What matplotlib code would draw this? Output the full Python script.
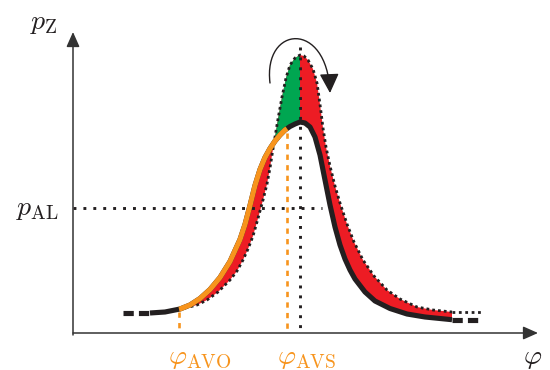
import matplotlib
matplotlib.use("Agg")
import matplotlib.pyplot as plt
from matplotlib.path import Path
from matplotlib.patches import FancyArrowPatch, Polygon
import numpy as np

plt.rcParams["mathtext.fontset"] = "cm"

# ---- data (schematic; y grows downward) ----
# measured pressure curve (black, orange between phi_AVO and phi_AVS)
base_x = [150, 165, 180, 190, 200, 210, 220, 230, 240, 245, 250, 255, 260, 265,
          270, 275, 280, 285, 290, 295, 300, 305, 310, 315, 320, 325, 330, 335,
          340, 345, 350, 355, 365, 375, 390, 407, 425, 452]
base_y = [313, 312, 309, 305, 298.5, 289.5, 277.5, 261.5, 239.5, 224.5, 205.5, 185.5,
          169.5, 157.5, 148.5, 141, 135, 130, 126.5, 124, 122, 123, 127, 137, 155,
          180, 205, 227, 245, 259, 270, 279, 292, 301, 308.5, 314, 317, 319.7]
# dotted (reference) curve
dot_x = [185, 197, 207, 218, 230, 237, 243, 248, 253, 257, 260, 263, 267, 270,
         272, 274, 276, 278, 282, 286, 290, 295, 300, 304, 308, 313, 317, 319,
         321, 323, 326, 330, 335, 340, 347, 354, 363, 374, 387, 400, 417, 433, 452]
dot_y = [308, 305, 300, 292, 280, 271, 260, 249, 236, 222, 211, 200, 184, 168,
         155, 143, 131, 119, 97, 78, 65, 58, 55, 56, 60, 69, 83, 97,
         112, 128, 147, 166, 186, 203, 224, 242, 260, 276, 290, 299, 307, 310, 312]
# tails of the curves
left_tail_x = [123, 150]
left_tail_y = [313, 313]
right_tail_x = [452, 481]
right_tail_y = [320, 320]
dot_tail_x = [452, 482]
dot_tail_y = [312, 312]

phi_avo = 179
phi_avs = 287
phi_peak = 300
p_al = 208

# ---- colours ----
BLACK = "#231f20"
ORANGE = "#f7941d"
RED = "#ed1c24"
GREEN = "#00a651"
AXIS = "#333333"

fig = plt.figure(figsize=(5.5, 3.7), dpi=100)
ax = fig.add_axes([0, 0, 1, 1])
ax.set_xlim(0, 550)
ax.set_ylim(370, 0)
ax.axis("off")

bx = np.array(base_x, float)
by = np.array(base_y, float)
dx = np.array(dot_x, float)
dy = np.array(dot_y, float)

# red area: between dotted curve and measured curve
m = (bx >= dx[0]) & (bx <= dx[-1])
red_pts = np.vstack([np.column_stack([dx, dy]),
                     np.column_stack([bx[m][::-1], by[m][::-1]])])
ax.add_patch(Polygon(red_pts, closed=True, facecolor=RED, edgecolor="none", zorder=1))

# green area: left of the peak, above measured curve
mg = (dx >= 274) & (dx <= phi_peak)
mb = (bx >= 274) & (bx <= phi_peak)
green_pts = np.vstack([np.column_stack([dx[mg], dy[mg]]),
                       np.column_stack([bx[mb][::-1], by[mb][::-1]])])
ax.add_patch(Polygon(green_pts, closed=True, facecolor=GREEN, edgecolor="none", zorder=2))

# guide lines
ax.plot([phi_peak, phi_peak], [47, 333], color=BLACK, lw=2.1,
        linestyle=(0, (1, 2.4)), dash_capstyle="butt", zorder=3)
ax.plot([73, 322], [p_al, p_al], color=BLACK, lw=2.1,
        linestyle=(0, (1, 2.4)), dash_capstyle="butt", zorder=3)
y_avo = np.interp(phi_avo, bx, by)
y_avs = np.interp(phi_avs, bx, by)
ax.plot([phi_avo, phi_avo], [y_avo + 3, 333], color=ORANGE, lw=1.9,
        linestyle=(0, (2.0, 2.0)), zorder=3)
ax.plot([phi_avs, phi_avs], [y_avs + 4, 333], color=ORANGE, lw=1.9,
        linestyle=(0, (2.0, 2.0)), zorder=3)

# dotted curve
ax.plot(dx, dy, color=BLACK, lw=2.0, linestyle=(0, (1, 1.1)),
        dash_capstyle="butt", zorder=4)
ax.plot(dot_tail_x, dot_tail_y, color=BLACK, lw=2.0, linestyle=(0, (1, 1.3)),
        dash_capstyle="butt", zorder=4)

# measured curve
ax.plot(bx, by, color=BLACK, lw=3.7, solid_capstyle="butt", solid_joinstyle="round", zorder=5)
mo = (bx > phi_avo) & (bx < phi_avs)
ox = np.concatenate([[phi_avo], bx[mo], [phi_avs]])
oy = np.concatenate([[y_avo], by[mo], [y_avs]])
ax.plot(ox, oy, color=ORANGE, lw=3.7, solid_capstyle="butt", solid_joinstyle="round", zorder=6)
ax.plot(left_tail_x, left_tail_y, color=BLACK, lw=3.7,
        linestyle=(0, (2.0, 1.0)), dash_capstyle="butt", zorder=5)
ax.plot(right_tail_x, right_tail_y, color=BLACK, lw=3.7,
        linestyle=(0, (2.0, 1.0)), dash_capstyle="butt", zorder=5)

# axes arrows
ax.add_patch(FancyArrowPatch((73, 333), (538, 333), arrowstyle="-|>,head_length=0.9,head_width=0.4",
                             mutation_scale=10, lw=1.1, color=AXIS, shrinkA=0, shrinkB=0, zorder=7))
ax.add_patch(FancyArrowPatch((73, 335), (73, 32), arrowstyle="-|>,head_length=0.9,head_width=0.4",
                             mutation_scale=10, lw=1.1, color=AXIS, shrinkA=0, shrinkB=0, zorder=7))

# rotating arrow above the peak
arc = Path([(270, 83), (263, 25), (327, 20), (330, 93)],
           [Path.MOVETO, Path.CURVE4, Path.CURVE4, Path.CURVE4])
ax.add_patch(FancyArrowPatch(path=arc, arrowstyle="-|>,head_length=1.2,head_width=0.6",
                             mutation_scale=10, lw=1.0, color=BLACK, zorder=8))

# labels
fs = 20
ax.text(44, 22, r"$p_\mathrm{Z}$", fontsize=fs, ha="center", va="center", color=BLACK)
ax.text(37, 208, r"$p_\mathrm{AL}$", fontsize=fs, ha="center", va="center", color=BLACK)
ax.text(523, 357, r"$\varphi$", fontsize=fs, ha="left", va="center", color=BLACK)
ax.text(200, 357, r"$\varphi_\mathrm{AVO}$", fontsize=fs, ha="center", va="center", color=ORANGE)
ax.text(307, 357, r"$\varphi_\mathrm{AVS}$", fontsize=fs, ha="center", va="center", color=ORANGE)

fig.savefig("out.png", dpi=100)
